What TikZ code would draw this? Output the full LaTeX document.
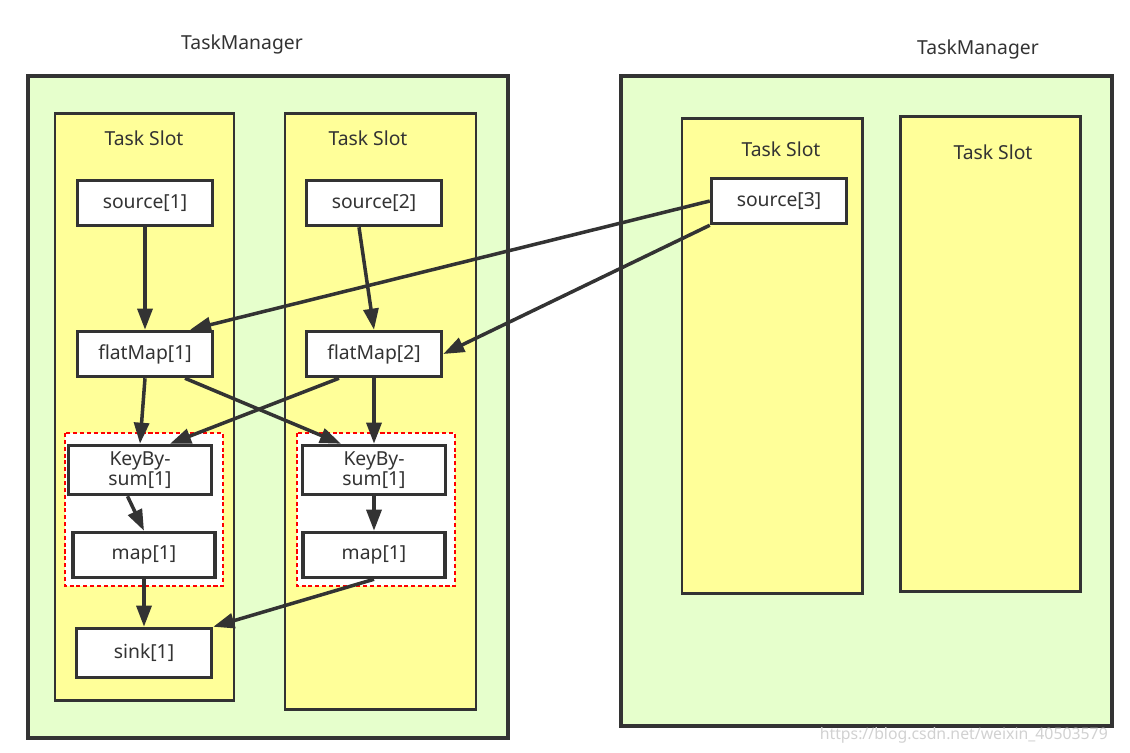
\documentclass[tikz,border=0pt]{standalone}
\usepackage{fontspec}
\setmainfont{Noto Sans}
\usetikzlibrary{arrows.meta}

\definecolor{managerbg}{RGB}{230,255,204}
\definecolor{slotbg}{RGB}{255,255,153}
\definecolor{linegray}{RGB}{51,51,51}

\tikzset{
    manager/.style={draw=linegray, line width=2pt, fill=managerbg},
    slot/.style={draw=linegray, line width=1.7pt, fill=slotbg},
    chain/.style={draw=red, line width=1.5pt, dash pattern=on 2.3pt off 1.6pt, fill=white},
    opbox/.style={draw=linegray, line width=2pt, fill=white, text=linegray,
        minimum width=2.7cm, minimum height=0.9cm, inner sep=1pt, align=center,
        font=\fontsize{11}{11}\selectfont},
    title/.style={text=linegray, font=\fontsize{11}{12}\selectfont},
    flow/.style={draw=linegray, line width=2pt, -{Triangle[length=12pt, width=8.5pt]}},
}

\begin{document}
\begin{tikzpicture}[x=0.02cm, y=-0.02cm]

    \useasboundingbox (0,0) rectangle (1130,752);

    % TaskManager
    \draw[manager] (28,76) rectangle (508,738);
    \draw[manager] (621,76) rectangle (1112,726);
    \node[title] (tm1) at (242,44) {TaskManager};
    \node[title] (tm2) at (978,49) {TaskManager};

    % Task Slot
    \draw[slot] (55,113) rectangle (234,700);
    \draw[slot] (285,113) rectangle (476,709);
    \draw[slot] (682,118) rectangle (862,593);
    \draw[slot] (900,116) rectangle (1080,591);
    \node[title] (ts1) at (144,138) {Task Slot};
    \node[title] (ts2) at (368,138) {Task Slot};
    \node[title] (ts3) at (781,149) {Task Slot};
    \node[title] (ts4) at (993,152) {Task Slot};

    % 算子链
    \draw[chain] (65,433) rectangle (223,586);
    \draw[chain] (297,433) rectangle (455,586);

    % 算子
    \node[opbox] (src1) at (145,203) {source[1]};
    \node[opbox] (src2) at (374,203) {source[2]};
    \node[opbox] (src3) at (779,201) {source[3]};
    \node[opbox] (fm1) at (145,354) {flatMap[1]};
    \node[opbox] (fm2) at (374,354) {flatMap[2]};
    \node[opbox, minimum width=2.86cm, minimum height=0.98cm] (kb1) at (140,470) {KeyBy-\\sum[1]};
    \node[opbox, minimum width=2.86cm, minimum height=0.98cm] (kb2) at (374,470) {KeyBy-\\sum[1]};
    \node[opbox, minimum width=2.84cm] (mp1) at (144,555) {map[1]};
    \node[opbox, minimum width=2.84cm] (mp2) at (374,555) {map[1]};
    \node[opbox, minimum height=0.98cm] (sk1) at (144,653) {sink[1]};

    % 数据流
    \draw[flow] (src1.south) -- (fm1.north);
    \draw[flow] ([xshift=-0.3cm]src2.south) -- (fm2.north);
    \draw[flow] (src3.west) -- ([xshift=0.9cm]fm1.north);
    \draw[flow] (src3.south west) -- (fm2.east);
    \draw[flow] (fm1.south) -- (kb1.north);
    \draw[flow] ([xshift=0.8cm]fm1.south) -- ([xshift=-0.66cm]kb2.north);
    \draw[flow] ([xshift=-0.7cm]fm2.south) -- ([xshift=0.6cm]kb1.north);
    \draw[flow] (fm2.south) -- (kb2.north);
    \draw[flow] ([xshift=-0.25cm]kb1.south) -- (mp1.north);
    \draw[flow] (kb2.south) -- (mp2.north);
    \draw[flow] (mp1.south) -- (sk1.north);
    \draw[flow] (mp2.south) -- (sk1.north east);

    % 水印
    \node[text=black!18, font=\fontsize{9}{10}\selectfont, anchor=east] (wm) at (1114,735) {https://blog.csdn.net/weixin\_40503579};

\end{tikzpicture}
\end{document}
